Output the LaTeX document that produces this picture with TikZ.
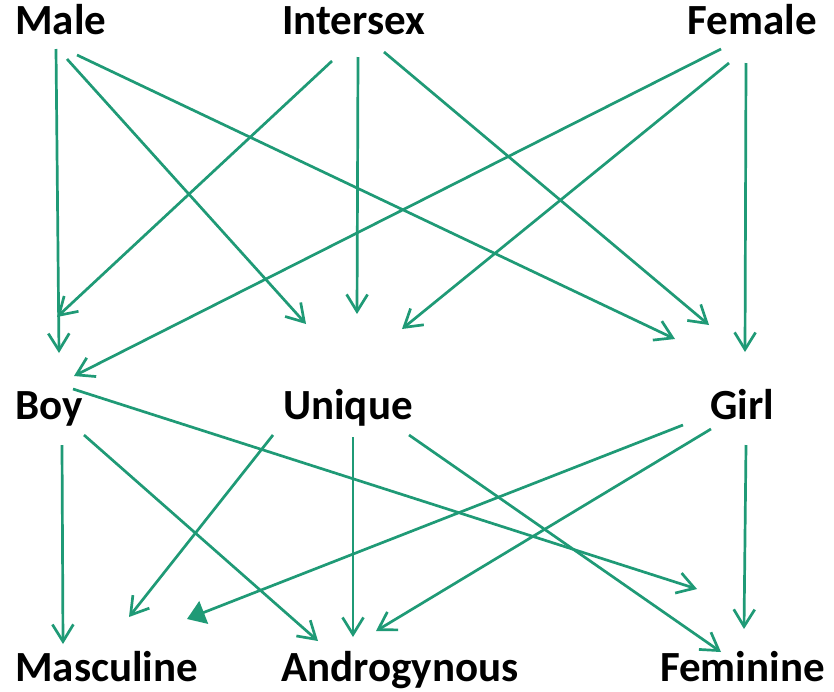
\documentclass[tikz,border=0pt]{standalone}
\usepackage{fontspec}
\setmainfont{Carlito}
\usetikzlibrary{arrows.meta}
\definecolor{edge}{RGB}{31,154,118}
\begin{document}
\begin{tikzpicture}[x=1pt,y=-1pt,
  lbl/.style={font=\bfseries\fontsize{43}{50}\selectfont, inner sep=0pt, text=black},
  conn/.style={draw=edge, line width=2.7pt, -{Straight Barb[length=17pt,width=21pt]}},
  connfill/.style={draw=edge, line width=2.7pt, -{Triangle[length=18pt,width=24pt,fill=edge]}}]
\useasboundingbox (0,0) rectangle (834,691);
% labels
\node[lbl, anchor=base west] (male) at (15,34) {Male};
\node[lbl, anchor=base west] (intersex) at (282,34) {Intersex};
\node[lbl, anchor=base east] (female) at (817,34) {Female};
\node[lbl, anchor=base west] (boy) at (15,419) {Boy};
\node[lbl, anchor=base west] (unique) at (283,419) {Unique};
\node[lbl, anchor=base west] (girl) at (710,419) {Girl};
\node[lbl, anchor=base west] (masc) at (15,681) {Masculine};
\node[lbl, anchor=base west] (andro) at (281,681) {Androgynous};
\node[lbl, anchor=base east] (fem) at (825,681) {Feminine};
% connector end points
\coordinate (maleA) at (56,49);
\coordinate (maleB) at (67,59);
\coordinate (maleC) at (77,55);
\coordinate (intA) at (332,61);
\coordinate (intB) at (358,57);
\coordinate (intC) at (384,52);
\coordinate (femA) at (721,49);
\coordinate (femB) at (729,63);
\coordinate (femC) at (746,63);
\coordinate (boyIn1) at (59,353);
\coordinate (boyIn2) at (57,317);
\coordinate (boyIn3) at (74,376);
\coordinate (uniIn1) at (306,324);
\coordinate (uniIn2) at (357,314);
\coordinate (uniIn3) at (402,329);
\coordinate (girlIn1) at (675,339);
\coordinate (girlIn2) at (709,325);
\coordinate (girlIn3) at (745,352);
\coordinate (boyA) at (62,445);
\coordinate (boyB) at (84,435);
\coordinate (boyC) at (73,389);
\coordinate (uniA) at (273,435);
\coordinate (uniB) at (353,437);
\coordinate (uniC) at (409,435);
\coordinate (girlA) at (683,425);
\coordinate (girlB) at (711,429);
\coordinate (girlC) at (746,445);
\coordinate (mascIn1) at (63,644);
\coordinate (mascIn2) at (129,617);
\coordinate (mascIn3) at (187,619);
\coordinate (andIn1) at (318,641);
\coordinate (andIn2) at (353,637);
\coordinate (andIn3) at (376,631);
\coordinate (femIn1) at (697,589);
\coordinate (femIn2) at (721,652);
\coordinate (femIn3) at (744,629);
% top connectors
\draw[conn] (maleA) -- (boyIn1);
\draw[conn] (maleB) -- (uniIn1);
\draw[conn] (maleC) -- (girlIn1);
\draw[conn] (intA) -- (boyIn2);
\draw[conn] (intB) -- (uniIn2);
\draw[conn] (intC) -- (girlIn2);
\draw[conn] (femA) -- (boyIn3);
\draw[conn] (femB) -- (uniIn3);
\draw[conn] (femC) -- (girlIn3);
% bottom connectors
\draw[conn] (boyA) -- (mascIn1);
\draw[conn] (boyB) -- (andIn1);
\draw[conn] (boyC) -- (femIn1);
\draw[conn] (uniA) -- (mascIn2);
\draw[conn] (uniB) -- (andIn2);
\draw[conn] (uniC) -- (femIn2);
\draw[connfill] (girlA) -- (mascIn3);
\draw[conn] (girlB) -- (andIn3);
\draw[conn] (girlC) -- (femIn3);
\end{tikzpicture}
\end{document}
